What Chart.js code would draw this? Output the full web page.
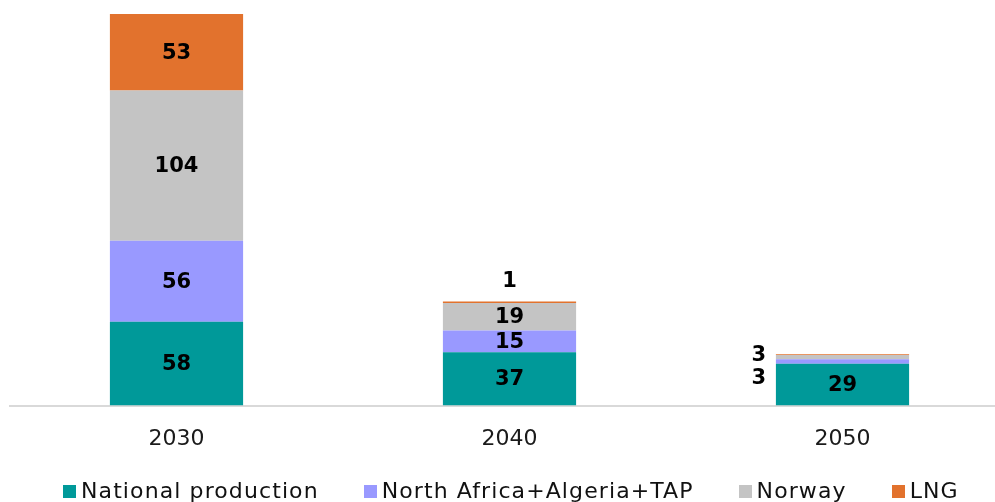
<!DOCTYPE html>
<html>
<head>
<meta charset="utf-8">
<script src="https://cdn.jsdelivr.net/npm/chart.js@4.4.1/dist/chart.umd.min.js"></script>
<style>
  html, body { margin: 0; padding: 0; background: #fff; overflow: hidden; }
  #wrap { position: relative; width: 995px; height: 502px; overflow: hidden; }
  #wrap canvas { position: absolute; left: 0; top: 0; }
  #legend {
    position: absolute; left: 63px; top: 480px; height: 22px;
    display: flex; align-items: center;
    font-family: "DejaVu Sans"; font-size: 22px; letter-spacing: 1.1px;
    line-height: 22px; color: #111;
    white-space: nowrap;
  }
  #legend .item { display: flex; align-items: center; margin-right: 45px; }
  #legend .box { width: 13px; height: 13px; margin-right: 5px; }
</style>
</head>
<body>
<div id="wrap">
  <canvas id="supplyChart" width="1010" height="502"></canvas>
  <div id="legend"></div>
</div>
<script>
const years = ["2030", "2040", "2050"];
const nationalProduction = [58, 37, 29];
const northAfricaTap = [56, 15, 3];
const norway = [104, 19, 3];
const lng = [53, 1, 0.5];

const seriesNames = ["National production", "North Africa+Algeria+TAP", "Norway", "LNG"];
const seriesColors = ["#009999", "#9999ff", "#c4c4c4", "#e2722d"];

// value labels: inside when the segment is tall enough, otherwise above the
// stack (top segment) or stacked to the left of the bar
const valueLabels = {
  id: "valueLabels",
  afterDatasetsDraw(chart) {
    const ctx = chart.ctx;
    ctx.save();
    ctx.font = "bold 21px 'DejaVu Sans'";
    ctx.fillStyle = "#000";
    ctx.textAlign = "center";
    ctx.textBaseline = "middle";

    chart.data.labels.forEach((_, i) => {
      const leftOnes = [];
      const n = chart.data.datasets.length;
      chart.data.datasets.forEach((ds, d) => {
        const v = ds.data[i];
        if (v < 1) return;
        const bar = chart.getDatasetMeta(d).data[i];
        const h = bar.base - bar.y;
        const cy = bar.y + h / 2;
        if (h >= 14) {
          ctx.fillText(v, bar.x, cy + 1);
        } else if (d === n - 1) {
          ctx.fillText(v, bar.x, bar.y - 20);
        } else {
          leftOnes.push({ v, bar, cy });
        }
      });
      if (leftOnes.length) {
        const first = leftOnes[0];
        leftOnes.forEach((l, k) => {
          const x = l.bar.x - l.bar.width / 2 - 17;
          ctx.fillText(l.v, x, first.cy + 17 - k * 23);
        });
      }
    });
    ctx.restore();
  },
};

// legend as html under the axis
const htmlLegend = {
  id: "htmlLegend",
  afterUpdate(chart) {
    const box = document.getElementById("legend");
    box.innerHTML = "";
    chart.data.datasets.forEach((ds) => {
      const item = document.createElement("div");
      item.className = "item";
      const sw = document.createElement("span");
      sw.className = "box";
      sw.style.background = ds.backgroundColor;
      const txt = document.createElement("span");
      txt.textContent = ds.label;
      item.appendChild(sw);
      item.appendChild(txt);
      box.appendChild(item);
    });
  },
};

const ctx = document.getElementById("supplyChart").getContext("2d");

new Chart(ctx, {
  type: "bar",
  data: {
    labels: years,
    datasets: [nationalProduction, northAfricaTap, norway, lng].map((vals, k) => ({
      label: seriesNames[k],
      data: vals,
      backgroundColor: seriesColors[k],
      borderWidth: 0,
      barPercentage: 0.4,
      categoryPercentage: 1,
    })),
  },
  options: {
    responsive: false,
    animation: false,
    layout: { padding: { top: 1, left: 10, right: 1, bottom: 38 } },
    plugins: {
      legend: { display: false },
      tooltip: { enabled: false },
    },
    scales: {
      x: {
        stacked: true,
        grid: { display: false },
        border: { display: true, color: "#d9d9d9", width: 2 },
        ticks: {
          padding: 12,
          color: "#1a1a1a",
          font: { family: "DejaVu Sans", size: 22 },
        },
      },
      y: {
        stacked: true,
        display: false,
        min: 0,
        max: 280,
      },
    },
  },
  plugins: [valueLabels, htmlLegend],
});
</script>
</body>
</html>
